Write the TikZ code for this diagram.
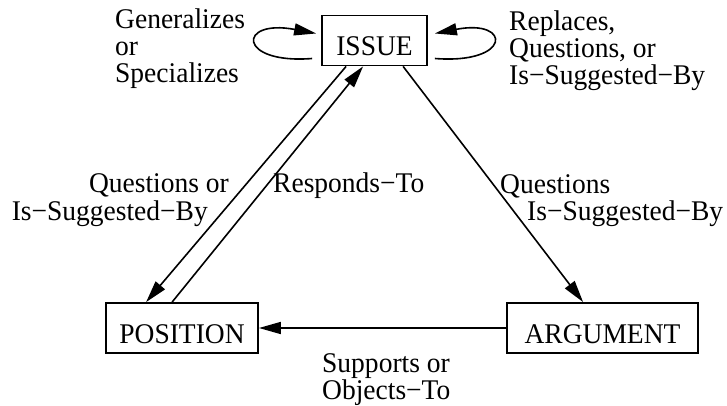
\documentclass[tikz,border=0pt]{standalone}
\usepackage{fontspec}
\setmainfont[FakeStretch=0.965]{Liberation Serif}
\usetikzlibrary{arrows.meta,calc}

\begin{document}
\begin{tikzpicture}[x=1pt,y=-1pt,
  every node/.style={font=\fontsize{28.5}{28}\selectfont},
  entity/.style={draw,line width=1.8pt,inner xsep=0pt,inner ysep=10pt,
    minimum height=50pt,text height=30pt,text depth=0pt},
  link/.style={line width=1.6pt,-{Triangle[length=22pt,width=12pt]}},
  lbl/.style={inner sep=0pt,anchor=base west},
  lble/.style={inner sep=0pt,anchor=base east}]
  \useasboundingbox (0,0) rectangle (727,406);

  % the three entity boxes
  \node[entity,minimum width=105pt] (I) at (374.5,40.5) {ISSUE};
  \node[entity,minimum width=152pt] (P) at (182,328) {POSITION};
  \node[entity,minimum width=191pt] (A) at (602.5,328) {ARGUMENT};

  % self loops on ISSUE
  \draw[link] ($(I.west)+(-9,18)$) .. controls ($(I.west)+(-84,24)$)
    and ($(I.west)+(-84,-22)$) .. ($(I.west)+(-5,-7)$);
  \draw[link] ($(I.east)+(7,18)$) .. controls ($(I.east)+(84,24)$)
    and ($(I.east)+(84,-22)$) .. ($(I.east)+(7,-7)$);

  % links between the boxes
  \draw[link] ($(I.south west)+(25,0)$) -- ($(P.north west)+(41,0)$);
  \draw[link] ($(P.north west)+(67,0)$) -- ($(I.south west)+(42,0)$);
  \draw[link] ($(I.south west)+(82,0)$) -- ($(A.north west)+(77,0)$);
  \draw[link] (A.west) -- (P.east);

  % labels of the self loops
  \node[lbl] (g1) at (115,29) {Generalizes};
  \node[lbl] (g2) at (115,56) {or};
  \node[lbl] (g3) at (115,83) {Specializes};
  \node[lbl] (r1) at (509,31) {Replaces,};
  \node[lbl] (r2) at (509,58) {Questions, or};
  \node[lbl] (r3) at (509,85) {Is−Suggested−By};

  % labels of the slanted links
  \node[lble] (q1) at (229,192) {Questions or};
  \node[lble] (q2) at (208,220) {Is−Suggested−By};
  \node[lbl] (rt) at (273,192) {Responds−To};
  \node[lbl] (s1) at (500,193) {Questions};
  \node[lbl] (s2) at (527,220) {Is−Suggested−By};

  % label of the bottom link
  \node[lbl] (o1) at (322,372) {Supports or};
  \node[lbl] (o2) at (322,399) {Objects−To};
\end{tikzpicture}
\end{document}
